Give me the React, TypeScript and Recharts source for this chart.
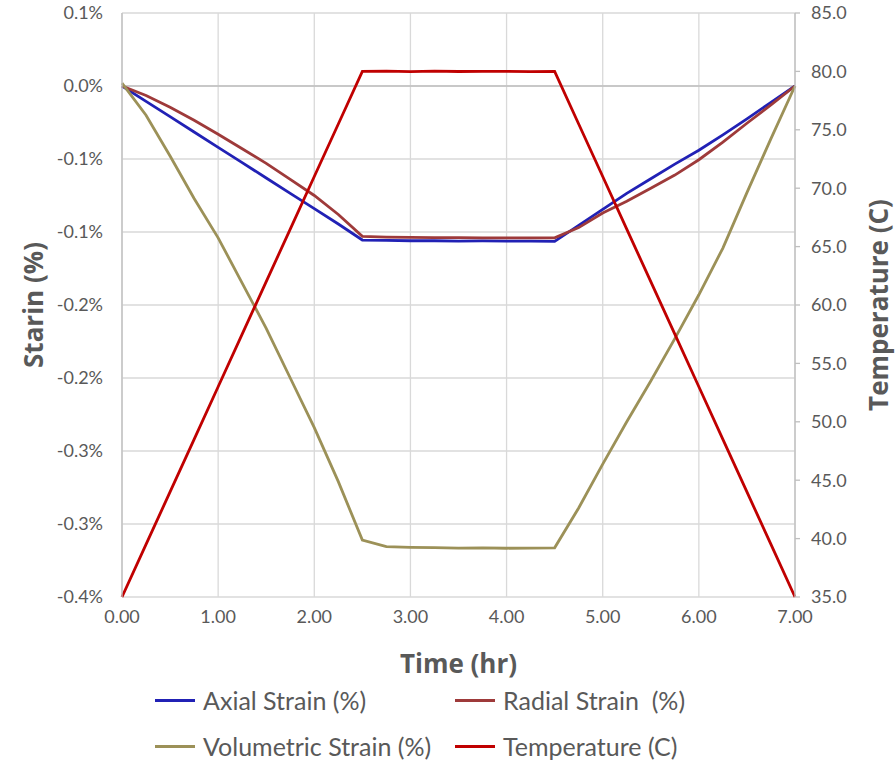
import { LineChart, Line, XAxis, YAxis, CartesianGrid, ReferenceLine, Legend } from 'recharts';

const hours = [0, 0.25, 0.5, 0.75, 1, 1.25, 1.5, 1.75, 2, 2.25, 2.5, 2.75, 3, 3.25, 3.5, 3.75, 4, 4.25, 4.5, 4.75, 5, 5.25, 5.5, 5.75, 6, 6.25, 6.5, 6.75, 7];

const axialStrain = [0, -0.0105, -0.021, -0.0315, -0.042, -0.0525, -0.063, -0.0735, -0.084, -0.0945, -0.1055, -0.1058, -0.106, -0.106, -0.1062, -0.1061, -0.1062, -0.1063, -0.1064, -0.0955, -0.0845, -0.0735, -0.0635, -0.0535, -0.044, -0.0335, -0.0225, -0.0112, 0];
const radialStrain = [0, -0.0065, -0.0145, -0.0235, -0.0330, -0.043, -0.053, -0.064, -0.075, -0.088, -0.103, -0.1035, -0.1037, -0.1038, -0.1039, -0.104, -0.104, -0.104, -0.104, -0.097, -0.087, -0.079, -0.07, -0.061, -0.0505, -0.0385, -0.0255, -0.013, 0];
const volumetricStrain = [0.002, -0.02, -0.048, -0.077, -0.104, -0.135, -0.166, -0.2, -0.234, -0.271, -0.311, -0.3155, -0.316, -0.3162, -0.3165, -0.3163, -0.3166, -0.3165, -0.3163, -0.289, -0.259, -0.23, -0.202, -0.173, -0.143, -0.111, -0.073, -0.036, 0];
const temperature = [35, 39.5, 44, 48.5, 53, 57.5, 62, 66.5, 71, 75.5, 80, 80.02, 79.98, 80.03, 79.99, 80.01, 80, 79.98, 80, 75.5, 71, 66.5, 62, 57.5, 53, 48.5, 44, 39.5, 35];

const hourTicks = [0, 1, 2, 3, 4, 5, 6, 7];
const strainTicks = [0.05, 0, -0.05, -0.1, -0.15, -0.2, -0.25, -0.3, -0.35];
const tempTicks = [35, 40, 45, 50, 55, 60, 65, 70, 75, 80, 85];

const seriesNames = ['Axial Strain (%)', 'Radial Strain  (%)', 'Volumetric Strain (%)', 'Temperature (C)'];
const seriesColors = ['#2121B5', '#9E3A3A', '#9C9158', '#C00000'];

const data = hours.map((t, i) => ({
  t,
  axial: axialStrain[i],
  radial: radialStrain[i],
  vol: volumetricStrain[i],
  temp: temperature[i],
}));

const FONT = 'Lato, "Open Sans", sans-serif';
const TITLE_FONT = '"Open Sans", Lato, sans-serif';
const TEXT = '#595959';

// excel shows these rounded to one decimal, half away from zero
const fmtStrain = (v: number) => {
  const r = Math.round(Math.abs(v) * 10 + 1e-6) / 10;
  return (v < -1e-9 ? '-' : '') + r.toFixed(1) + '%';
};

const LeftTitle = (props: any) => {
  const { viewBox } = props;
  const x = viewBox.x + 33;
  const y = viewBox.y + viewBox.height / 2;
  return (
    <text x={x} y={y} transform={`rotate(-90 ${x} ${y})`} textAnchor="middle" dominantBaseline="central"
      fill={TEXT} fontFamily={TITLE_FONT} fontWeight={700} fontSize={26}>
      Starin (%)
    </text>
  );
};

const RightTitle = (props: any) => {
  const { viewBox } = props;
  const x = viewBox.x + 83;
  const y = viewBox.y + viewBox.height / 2;
  return (
    <text x={x} y={y} transform={`rotate(-90 ${x} ${y})`} textAnchor="middle" dominantBaseline="central"
      fill={TEXT} fontFamily={TITLE_FONT} fontWeight={700} fontSize={26}>
      Temperature (C)
    </text>
  );
};

const legendPos = [
  { left: 155, top: 2 },
  { left: 455, top: 2 },
  { left: 155, top: 48 },
  { left: 455, top: 48 },
];

const LegendBox = () => (
  <div style={{ position: 'relative', width: 896, height: 80 }}>
    {seriesNames.map((name, i) => (
      <div key={name} style={{ position: 'absolute', left: legendPos[i].left, top: legendPos[i].top, display: 'flex', alignItems: 'center', height: 30 }}>
        <div style={{ width: 40, height: 3, background: seriesColors[i], marginRight: 8 }} />
        <span style={{ fontFamily: FONT, fontSize: 25, color: TEXT, whiteSpace: 'pre', lineHeight: '30px' }}>{name}</span>
      </div>
    ))}
  </div>
);

export default function App() {
  return (
    <div style={{ position: 'absolute', left: 0, top: 0, width: 896, height: 760, background: '#fff' }}>
      <LineChart width={896} height={760} data={data} margin={{ top: 13, right: 0, left: 0, bottom: 83 }}>
        <CartesianGrid yAxisId="left" stroke="#d9d9d9" strokeWidth={1.3} />
        <XAxis
          dataKey="t"
          type="number"
          domain={[0, 7]}
          ticks={hourTicks}
          tickFormatter={(v: number) => v.toFixed(2)}
          axisLine={false}
          tickLine={false}
          tickSize={0}
          tickMargin={13}
          height={80}
          tick={{ fill: TEXT, fontFamily: FONT, fontSize: 18 }}
          label={{ value: 'Time (hr)', position: 'insideBottom', offset: 4, fill: TEXT, fontFamily: TITLE_FONT, fontWeight: 700, fontSize: 26 }}
        />
        <YAxis
          yAxisId="left"
          type="number"
          domain={[-0.35, 0.05]}
          ticks={strainTicks}
          tickFormatter={fmtStrain}
          width={122}
          axisLine={{ stroke: '#bfbfbf', strokeWidth: 1.3 }}
          tickLine={false}
          tickSize={0}
          tickMargin={19}
          tick={{ fill: TEXT, fontFamily: FONT, fontSize: 18 }}
          label={<LeftTitle />}
        />
        <YAxis
          yAxisId="right"
          orientation="right"
          type="number"
          domain={[35, 85]}
          ticks={tempTicks}
          tickFormatter={(v: number) => v.toFixed(1)}
          width={101}
          axisLine={{ stroke: '#bfbfbf', strokeWidth: 1.3 }}
          tickLine={{ stroke: '#bfbfbf', strokeWidth: 1.3 }}
          tickSize={5}
          tickMargin={11}
          tick={{ fill: TEXT, fontFamily: FONT, fontSize: 18 }}
          label={<RightTitle />}
        />
        <ReferenceLine yAxisId="left" y={0} stroke="#bfbfbf" strokeWidth={1.6} />
        <Legend
          layout="horizontal"
          verticalAlign="middle"
          align="center"
          content={<LegendBox />}
          wrapperStyle={{ top: 683, left: 0, width: 896 }}
        />
        <Line yAxisId="left" type="linear" dataKey="axial" name={seriesNames[0]} stroke={seriesColors[0]} strokeWidth={2.8} dot={false} isAnimationActive={false} />
        <Line yAxisId="left" type="linear" dataKey="radial" name={seriesNames[1]} stroke={seriesColors[1]} strokeWidth={2.8} dot={false} isAnimationActive={false} />
        <Line yAxisId="left" type="linear" dataKey="vol" name={seriesNames[2]} stroke={seriesColors[2]} strokeWidth={2.8} dot={false} isAnimationActive={false} />
        <Line yAxisId="right" type="linear" dataKey="temp" name={seriesNames[3]} stroke={seriesColors[3]} strokeWidth={2.8} dot={false} isAnimationActive={false} />
      </LineChart>
    </div>
  );
}
